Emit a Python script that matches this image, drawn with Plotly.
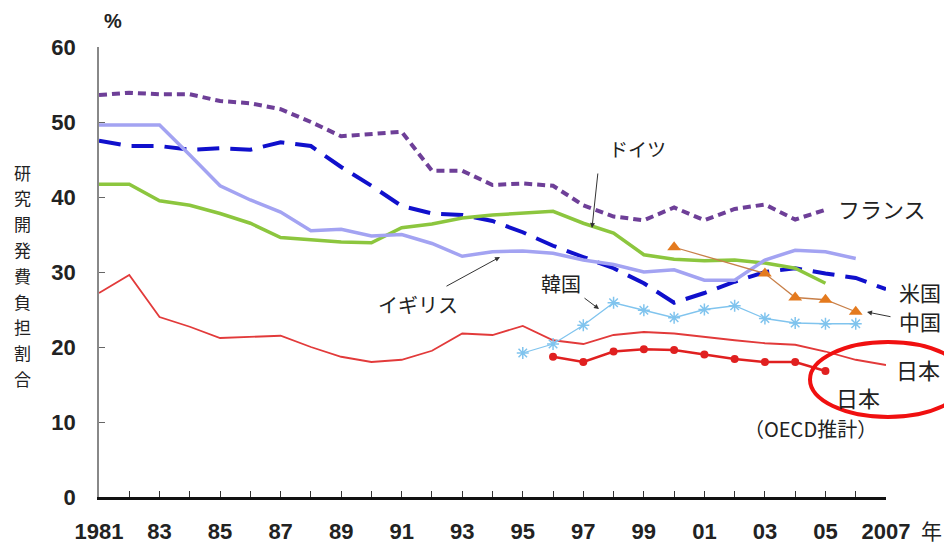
import plotly.graph_objects as go

years = list(range(1981, 2008))

france_years = list(range(1981, 2006))
france = [53.6, 53.9, 53.7, 53.7, 52.8, 52.5, 51.7, 50.0, 48.1, 48.4, 48.7, 43.5, 43.5,
          41.6, 41.8, 41.5, 38.9, 37.4, 36.9, 38.6, 36.9, 38.4, 39.0, 37.0, 38.3]

us_years = list(range(1981, 2008))
us = [47.5, 46.8, 46.8, 46.3, 46.5, 46.3, 47.3, 46.8, 44.0, 41.5, 38.8, 37.8, 37.6,
      36.8, 35.3, 33.5, 32.0, 30.5, 28.5, 25.9, 27.2, 28.7, 30.0, 30.5, 29.8, 29.2, 27.7]

germany_years = list(range(1981, 2006))
germany = [41.7, 41.7, 39.5, 38.9, 37.8, 36.5, 34.6, 34.3, 34.0, 33.9, 35.9, 36.4, 37.2,
           37.6, 37.9, 38.1, 36.5, 35.2, 32.3, 31.7, 31.5, 31.6, 31.2, 30.5, 28.5]

uk_years = list(range(1981, 2007))
uk = [49.6, 49.6, 49.6, 45.6, 41.5, 39.6, 38.0, 35.5, 35.7, 34.8, 35.0, 33.8, 32.1,
      32.7, 32.8, 32.5, 31.6, 31.0, 30.0, 30.3, 28.9, 28.9, 31.6, 32.9, 32.7, 31.8]

japan_years = list(range(1981, 2008))
japan = [27.2, 29.6, 24.0, 22.7, 21.2, 21.4, 21.5, 20.0, 18.7, 18.0, 18.3, 19.5, 21.8,
         21.6, 22.8, 20.9, 20.4, 21.6, 22.0, 21.8, 21.3, 20.9, 20.5, 20.3, 19.4, 18.3, 17.6]

japan_oecd_years = list(range(1996, 2006))
japan_oecd = [18.7, 18.0, 19.4, 19.7, 19.6, 19.0, 18.4, 18.0, 18.0, 16.8]

korea_years = list(range(1995, 2007))
korea = [19.2, 20.4, 22.9, 25.9, 24.9, 23.9, 25.0, 25.5, 23.8, 23.2, 23.1, 23.1]

china_years = [2000, 2003, 2004, 2005, 2006]
china = [33.3, 29.8, 26.6, 26.3, 24.7]

x_tickvals = years
x_ticktext = ["1981", "", "83", "", "85", "", "87", "", "89", "", "91", "", "93", "",
              "95", "", "97", "", "99", "", "01", "", "03", "", "05", "", "2007"]
y_tickvals = [0, 10, 20, 30, 40, 50, 60]
y_title = "研究開発費負担割合"

fig = go.Figure()

fig.add_trace(go.Scatter(x=france_years, y=france, mode="lines",
                         line=dict(color="#6E3F98", width=4, dash="8px,5px")))
fig.add_trace(go.Scatter(x=us_years, y=us, mode="lines",
                         line=dict(color="#1010CC", width=4, dash="22px,11px")))
fig.add_trace(go.Scatter(x=germany_years, y=germany, mode="lines",
                         line=dict(color="#8CC63E", width=3.5)))
fig.add_trace(go.Scatter(x=uk_years, y=uk, mode="lines",
                         line=dict(color="#A3A3F2", width=3.5)))
fig.add_trace(go.Scatter(x=japan_years, y=japan, mode="lines",
                         line=dict(color="#E23A3A", width=1.8)))
fig.add_trace(go.Scatter(x=japan_oecd_years, y=japan_oecd, mode="lines+markers",
                         line=dict(color="#E02020", width=2.5),
                         marker=dict(symbol="circle", size=8, color="#E02020")))
fig.add_trace(go.Scatter(x=korea_years, y=korea, mode="lines+markers",
                         line=dict(color="#80C4EE", width=1.3),
                         marker=dict(symbol="asterisk-open", size=10,
                                     line=dict(color="#80C4EE", width=1.5))))
fig.add_trace(go.Scatter(x=china_years, y=china, mode="lines+markers",
                         line=dict(color="#C8804A", width=1.3),
                         marker=dict(symbol="triangle-up", size=12, color="#E47A1E")))

jp = "Noto Sans CJK JP"
tc = "#222222"
# page-pixel geometry of the plot area (page body has an 8px default margin)
OFF = 8
L, R, T, B = 99, 886, 47, 497
W, H = 952 - OFF, 544 - OFF

def pxx(px):
    return (px - L) / (R - L)

def pxy(py):
    return (B - py) / (B - T)

labels = [
    ("ドイツ", 637, 148, 19),
    ("フランス", 882, 208, 22),
    ("イギリス", 418, 305, 20),
    ("韓国", 561, 283, 20),
    ("米国", 920, 292, 21),
    ("中国", 920, 321, 21),
    ("日本", 918, 369, 22),
    ("日本", 858, 397, 22),
    ("（OECD推計）", 810, 428, 20),
    ("年", 931, 530, 21),
]
for t, px, py, s in labels:
    fig.add_annotation(x=pxx(px), y=pxy(py), xref="paper", yref="paper", text=t,
                       xanchor="center", yanchor="middle",
                       showarrow=False, borderpad=0,
                       font=dict(family=jp, size=s, color=tc))

fig.add_annotation(x=pxx(113), y=pxy(21), xref="paper", yref="paper", text="%",
                   xanchor="center", yanchor="middle", showarrow=False, borderpad=0,
                   font=dict(family="Liberation Sans", size=20, color=tc, weight="bold"))

for i, ch in enumerate(y_title):
    fig.add_annotation(x=pxx(22), y=pxy(172 + i * 25.8), xref="paper", yref="paper",
                       text=ch, xanchor="center", yanchor="middle",
                       showarrow=False, borderpad=0,
                       font=dict(family=jp, size=17, color=tc))

arrows = [
    ((592, 228), (598, 172)),
    ((500, 257), (445, 287)),
    ((599, 309), (583, 297)),
    ((867, 312), (892, 317)),
]
for (hx, hy), (tx, ty) in arrows:
    fig.add_annotation(x=pxx(hx), y=pxy(hy), ax=tx - hx, ay=ty - hy,
                       xref="paper", yref="paper", axref="pixel", ayref="pixel", text="",
                       showarrow=True, arrowhead=2, arrowsize=1, arrowwidth=1,
                       arrowcolor="#333333")

fig.add_shape(type="circle", xref="paper", yref="paper",
              x0=pxx(810), x1=pxx(966), y0=pxy(417), y1=pxy(342),
              line=dict(color="#F01010", width=4))

fig.update_layout(
    width=W, height=H,
    margin=dict(l=L - OFF, r=952 - R, t=T - OFF, b=544 - B, autoexpand=False),
    paper_bgcolor="white", plot_bgcolor="white",
    showlegend=False,
    font=dict(family="Liberation Sans", size=20, color=tc),
)
fig.update_xaxes(range=[1981, 2007], tickvals=x_tickvals, ticktext=x_ticktext,
                 ticks="inside", ticklen=6, tickcolor="#333333", tickwidth=1,
                 showline=True, linecolor="#111111", linewidth=3,
                 showgrid=False, zeroline=False, ticklabelstandoff=13,
                 tickfont=dict(family="Liberation Sans", size=22, color=tc, weight="bold"))
fig.update_yaxes(range=[0, 60], tickvals=y_tickvals,
                 ticks="inside", ticklen=6, tickcolor="#666666", tickwidth=1,
                 showline=True, linecolor="#888888", linewidth=1.5,
                 showgrid=False, zeroline=False, ticklabelstandoff=17,
                 tickfont=dict(family="Liberation Sans", size=22, color=tc, weight="bold"))

fig.write_html("out.html")
